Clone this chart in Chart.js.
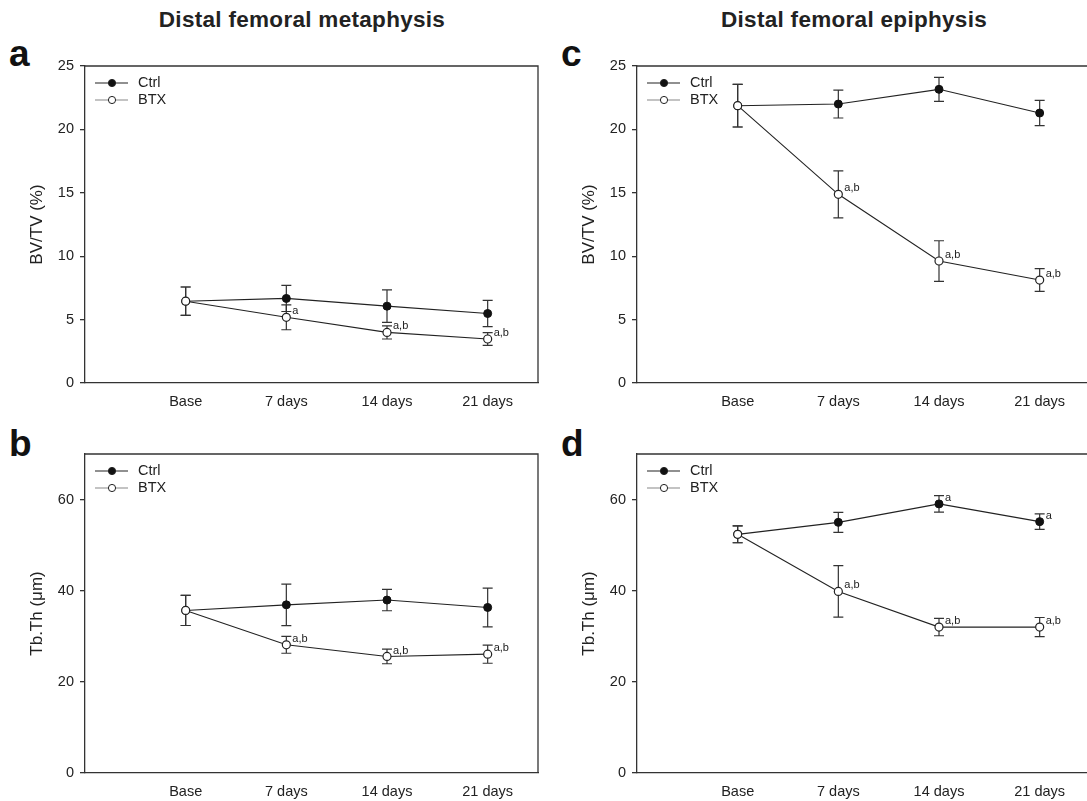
<!DOCTYPE html>
<html lang="en">
<head>
<meta charset="UTF-8">
<title>Distal femur BV/TV and Tb.Th</title>
<script src="https://cdn.jsdelivr.net/npm/chart.js"></script>
<style>
  html, body { margin: 0; padding: 0; overflow: hidden; background: #fff; }
  body { width: 1087px; height: 801px; position: relative; font-family: "Liberation Sans", Arial, sans-serif; }
  .col-title { position: absolute; top: 9px; font-size: 22.5px; line-height: 1; font-weight: bold; color: #222; transform: translateX(-50%); white-space: nowrap; letter-spacing: 0.3px; }
  .letter { position: absolute; font-size: 37px; line-height: 1; font-weight: bold; color: #111; }
  .panel { position: absolute; width: 528px; height: 380px; }
</style>
</head>
<body>
<div class="col-title" style="left:302px">Distal femoral metaphysis</div>
<div class="col-title" style="left:854px">Distal femoral epiphysis</div>
<div class="letter" style="left:9px; top:35px">a</div>
<div class="letter" style="left:561px; top:35px">c</div>
<div class="letter" style="left:9px; top:425px">b</div>
<div class="letter" style="left:561px; top:425px">d</div>

<div class="panel" style="left:20px; top:40px"><canvas id="chartA"></canvas></div>
<div class="panel" style="left:20px; top:428px"><canvas id="chartB"></canvas></div>
<div class="panel" style="left:572px; top:40px"><canvas id="chartC"></canvas></div>
<div class="panel" style="left:572px; top:428px"><canvas id="chartD"></canvas></div>

<script>
// time points
const categories = ['Base', '7 days', '14 days', '21 days'];
const seriesNames = ['Ctrl', 'BTX'];

// y ticks
const bvTicks = [0, 5, 10, 15, 20, 25];
const thTicks = [0, 20, 40, 60];

// a: metaphysis BV/TV (%)
const metaBvCtrl    = [6.45, 6.67, 6.06, 5.48];
const metaBvCtrlErr = [1.12, 1.03, 1.28, 1.03];
const metaBvCtrlSig = ['', '', '', ''];
const metaBvBtx     = [6.45, 5.18, 3.99, 3.47];
const metaBvBtxErr  = [1.12, 0.98, 0.52, 0.5];
const metaBvBtxSig  = ['', 'a', 'a,b', 'a,b'];

// b: metaphysis Tb.Th (um)
const metaThCtrl    = [35.67, 36.9, 37.95, 36.33];
const metaThCtrlErr = [3.3, 4.55, 2.35, 4.25];
const metaThCtrlSig = ['', '', '', ''];
const metaThBtx     = [35.67, 28.13, 25.57, 26.08];
const metaThBtxErr  = [3.3, 1.85, 1.6, 2.0];
const metaThBtxSig  = ['', 'a,b', 'a,b', 'a,b'];

// c: epiphysis BV/TV (%)
const epiBvCtrl    = [21.87, 22.0, 23.16, 21.29];
const epiBvCtrlErr = [1.68, 1.1, 0.95, 1.0];
const epiBvCtrlSig = ['', '', '', ''];
const epiBvBtx     = [21.87, 14.88, 9.62, 8.12];
const epiBvBtxErr  = [1.68, 1.85, 1.6, 0.9];
const epiBvBtxSig  = ['', 'a,b', 'a,b', 'a,b'];

// d: epiphysis Tb.Th (um)
const epiThCtrl    = [52.37, 55.0, 59.05, 55.16];
const epiThCtrlErr = [1.85, 2.2, 1.8, 1.7];
const epiThCtrlSig = ['', '', 'a', 'a'];
const epiThBtx     = [52.37, 39.85, 32.02, 32.02];
const epiThBtxErr  = [1.85, 5.65, 1.9, 2.1];
const epiThBtxSig  = ['', 'a,b', 'a,b', 'a,b'];

const FONT = '"Liberation Sans", Arial, sans-serif';
const axisColor = '#333';
const textColor = '#222';
Chart.defaults.font.family = FONT;
Chart.defaults.color = textColor;

// error bars under the markers
const errorBars = {
    id: 'errorBars',
    beforeDatasetsDraw(chart) {
        const ctx = chart.ctx, y = chart.scales.y;
        ctx.save();
        ctx.strokeStyle = axisColor;
        ctx.lineWidth = 1.2;
        chart.data.datasets.forEach((ds, i) => {
            const meta = chart.getDatasetMeta(i);
            meta.data.forEach((pt, j) => {
                const v = ds.data[j].y, e = ds.errors[j];
                const top = y.getPixelForValue(v + e), bot = y.getPixelForValue(v - e);
                ctx.beginPath();
                ctx.moveTo(pt.x, top); ctx.lineTo(pt.x, bot);
                ctx.moveTo(pt.x - 5, top); ctx.lineTo(pt.x + 5, top);
                ctx.moveTo(pt.x - 5, bot); ctx.lineTo(pt.x + 5, bot);
                ctx.stroke();
            });
        });
        ctx.restore();
    }
};

// significance letters next to the points
const sigLabels = {
    id: 'sigLabels',
    afterDatasetsDraw(chart) {
        const ctx = chart.ctx;
        ctx.save();
        ctx.font = '11px ' + FONT;
        ctx.fillStyle = textColor;
        ctx.textAlign = 'left';
        ctx.textBaseline = 'middle';
        chart.data.datasets.forEach((ds, i) => {
            chart.getDatasetMeta(i).data.forEach((pt, j) => {
                if (ds.sig[j]) ctx.fillText(ds.sig[j], pt.x + 6, pt.y - 6);
            });
        });
        ctx.restore();
    }
};

// top + right frame, and the legend in the corner
const frameAndLegend = {
    id: 'frameAndLegend',
    afterDraw(chart) {
        const ctx = chart.ctx, a = chart.chartArea;
        ctx.save();
        ctx.strokeStyle = axisColor;
        ctx.lineWidth = 1.3;
        ctx.beginPath();
        ctx.moveTo(a.left, a.top); ctx.lineTo(a.right, a.top); ctx.lineTo(a.right, a.bottom);
        ctx.stroke();

        ctx.font = '14.5px ' + FONT;
        ctx.textBaseline = 'middle';
        ctx.textAlign = 'left';
        chart.data.datasets.forEach((ds, i) => {
            const ly = a.top + 17 + i * 17, lx = a.left + 10;
            ctx.strokeStyle = i === 0 ? '#222' : '#888';
            ctx.lineWidth = 1.1;
            ctx.beginPath(); ctx.moveTo(lx, ly); ctx.lineTo(lx + 33, ly); ctx.stroke();
            ctx.beginPath(); ctx.arc(lx + 17, ly, 3.6, 0, Math.PI * 2);
            ctx.fillStyle = ds.pointBackgroundColor; ctx.fill();
            ctx.strokeStyle = '#222'; ctx.lineWidth = 1; ctx.stroke();
            ctx.fillStyle = textColor;
            ctx.fillText(ds.label, lx + 43, ly);
        });
        ctx.restore();
    }
};

function toPoints(vals) {
    return vals.map((v, i) => ({ x: i, y: v }));
}

function makePanel(id, box, plot, yTitle, yMax, yTicks, ctrl, btx) {
    const padTop = plot.top - box.top;
    const padRight = box.left + 528 - plot.right;
    const yWidth = plot.left - box.left;
    const xHeight = box.top + 380 - plot.bottom;
    const line = { borderColor: '#222', borderWidth: 1.1, tension: 0, pointRadius: 4, pointHoverRadius: 4, fill: false };
    new Chart(document.getElementById(id), {
        type: 'line',
        data: {
            datasets: [
                Object.assign({}, line, { label: seriesNames[0], data: toPoints(ctrl[0]), errors: ctrl[1], sig: ctrl[2],
                    pointBackgroundColor: '#111', pointBorderColor: '#111', pointBorderWidth: 1, order: 2 }),
                Object.assign({}, line, { label: seriesNames[1], data: toPoints(btx[0]), errors: btx[1], sig: btx[2],
                    pointBackgroundColor: '#fff', pointBorderColor: '#222', pointBorderWidth: 1.2, order: 1 })
            ]
        },
        options: {
            responsive: true,
            maintainAspectRatio: false,
            animation: false,
            layout: { padding: { top: padTop, right: padRight, left: 0, bottom: 0 } },
            plugins: { legend: { display: false }, tooltip: { enabled: false } },
            scales: {
                x: {
                    type: 'linear', min: -1, max: 3.5,
                    afterBuildTicks: s => { s.ticks = categories.map((c, i) => ({ value: i })); },
                    afterFit: s => { s.height = xHeight; },
                    ticks: { callback: v => categories[v], font: { size: 14.5 }, color: textColor, padding: 10, autoSkip: false, maxRotation: 0 },
                    grid: { display: false, drawTicks: false },
                    border: { display: true, color: axisColor, width: 1.3 }
                },
                y: {
                    min: 0, max: yMax,
                    afterBuildTicks: s => { s.ticks = yTicks.map(v => ({ value: v })); },
                    afterFit: s => { s.width = yWidth; },
                    ticks: { font: { size: 14.5 }, color: textColor, padding: 6 },
                    grid: { drawOnChartArea: false, drawTicks: true, tickLength: 5, color: axisColor, lineWidth: 1.3 },
                    border: { display: true, color: axisColor, width: 1.3 },
                    title: { display: true, text: yTitle, font: { size: 17 }, color: textColor, padding: { top: 7, bottom: 0 } }
                }
            }
        },
        plugins: [errorBars, sigLabels, frameAndLegend]
    });
}

makePanel('chartA', { left: 20, top: 40 }, { left: 85, top: 66, right: 538, bottom: 383 }, 'BV/TV (%)', 25, bvTicks,
    [metaBvCtrl, metaBvCtrlErr, metaBvCtrlSig], [metaBvBtx, metaBvBtxErr, metaBvBtxSig]);
makePanel('chartB', { left: 20, top: 428 }, { left: 85, top: 454, right: 538, bottom: 773 }, 'Tb.Th (μm)', 70, thTicks,
    [metaThCtrl, metaThCtrlErr, metaThCtrlSig], [metaThBtx, metaThBtxErr, metaThBtxSig]);
makePanel('chartC', { left: 572, top: 40 }, { left: 637, top: 66, right: 1090, bottom: 383 }, 'BV/TV (%)', 25, bvTicks,
    [epiBvCtrl, epiBvCtrlErr, epiBvCtrlSig], [epiBvBtx, epiBvBtxErr, epiBvBtxSig]);
makePanel('chartD', { left: 572, top: 428 }, { left: 637, top: 454, right: 1090, bottom: 773 }, 'Tb.Th (μm)', 70, thTicks,
    [epiThCtrl, epiThCtrlErr, epiThCtrlSig], [epiThBtx, epiThBtxErr, epiThBtxSig]);
</script>
</body>
</html>
